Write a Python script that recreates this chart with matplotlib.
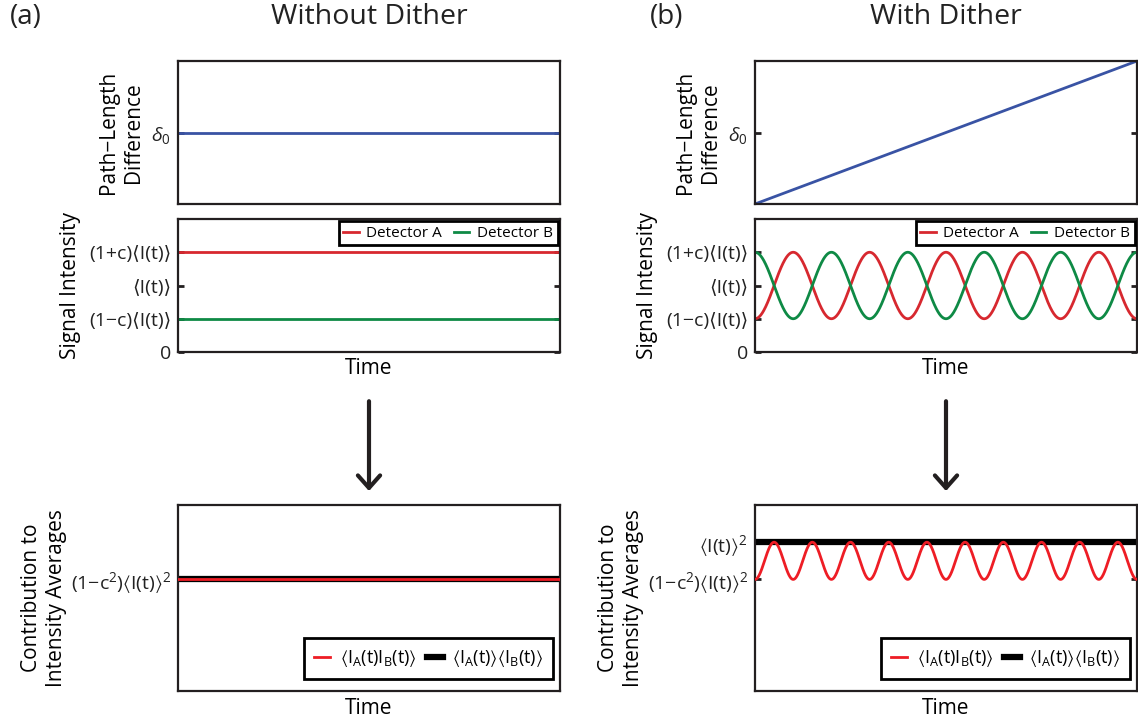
import numpy as np
import matplotlib.pyplot as plt

plt.rcParams["font.family"] = ["Open Sans", "DejaVu Sans"]
plt.rcParams["mathtext.fontset"] = "custom"
plt.rcParams["mathtext.rm"] = "Open Sans"
plt.rcParams["mathtext.it"] = "Open Sans:italic"
plt.rcParams["mathtext.bf"] = "Open Sans:bold"
plt.rcParams["mathtext.fallback"] = "stixsans"

# values
mean_I = 1.0          # <I(t)>
contrast = 0.5        # c
n_fringes = 5         # fringes swept while dithering
delta_range = [-1.0, 1.0]
n_pts = 1000

# colours
BLUE = "#3953a4"
RED_A = "#d7282f"
GREEN_B = "#0e8a45"
RED_AB = "#ee1d25"
INK = "#231f20"

t = np.linspace(0, 1, n_pts)
phase = 2 * np.pi * n_fringes * t

# without dither: everything stays fixed
delta_fixed = np.zeros_like(t)
IA_fixed = np.full_like(t, mean_I * (1 + contrast))
IB_fixed = np.full_like(t, mean_I * (1 - contrast))

# with dither: path length swept, fringes move past the detectors
delta_dither = np.linspace(delta_range[0], delta_range[1], n_pts)
IA_dither = mean_I * (1 - contrast * np.cos(phase))
IB_dither = mean_I * (1 + contrast * np.cos(phase))

sig_ticks = [0, (1 - contrast) * mean_I, mean_I, (1 + contrast) * mean_I]
sig_labels = ["0", "(1\u2212c)\u27e8I(t)\u27e9", "\u27e8I(t)\u27e9", "(1+c)\u27e8I(t)\u27e9"]
low_corr = (1 - contrast**2) * mean_I**2
low_label = r"(1$-$c$^2$)$\langle$I(t)$\rangle^2$"
mean_sq_label = r"$\langle$I(t)$\rangle^2$"
leg_prod = r"$\langle\mathrm{I_A(t)I_B(t)}\rangle$"
leg_means = r"$\langle\mathrm{I_A(t)}\rangle\langle\mathrm{I_B(t)}\rangle$"

W, H = 1138, 721
fig = plt.figure(figsize=(W / 100, H / 100), dpi=100)

cols = [178, 755]
tag_x = [10, 650]
width = 382


def add_ax(x0, top, bottom):
    return fig.add_axes([x0 / W, 1 - bottom / H, width / W, (bottom - top) / H])


def style(ax):
    for s in ax.spines.values():
        s.set_linewidth(1.6)
        s.set_color(INK)
    ax.tick_params(axis="y", direction="in", length=4, width=2, left=True, right=True,
                   labelsize=14, pad=5, colors=INK, labelcolor="#222222")
    ax.tick_params(axis="x", bottom=False, labelbottom=False)
    ax.set_xlim(0, 1)


def frame(leg):
    leg.get_frame().set_edgecolor("black")
    leg.get_frame().set_linewidth(2)


panels = [
    ("(a)", "Without Dither", delta_fixed, IA_fixed, IB_fixed),
    ("(b)", "With Dither", delta_dither, IA_dither, IB_dither),
]

for x0, tx, (tag, title, delta, IA, IB) in zip(cols, tag_x, panels):
    ax1 = add_ax(x0, 61, 204)
    ax2 = add_ax(x0, 219, 352)
    ax3 = add_ax(x0, 505, 691)

    # path-length difference
    ax1.plot(t, delta, color=BLUE, lw=2)
    ax1.set_ylim(-1, 1)
    ax1.set_yticks([0])
    ax1.set_yticklabels([r"$\delta_0$"], fontsize=18)
    ax1.set_ylabel("Path\u2212Length\nDifference", fontsize=15, linespacing=1.25)
    ax1.yaxis.set_label_coords(-0.09, 0.5)
    style(ax1)

    # detector signals
    ax2.plot(t, IA, color=RED_A, lw=2, label="Detector A")
    ax2.plot(t, IB, color=GREEN_B, lw=2, label="Detector B")
    ax2.set_ylim(0, 2 * mean_I)
    ax2.set_yticks(sig_ticks)
    ax2.set_yticklabels(sig_labels)
    ax2.set_ylabel("Signal Intensity", fontsize=15)
    ax2.yaxis.set_label_coords(-0.255, 0.5)
    ax2.set_xlabel("Time", fontsize=15, labelpad=4)
    style(ax2)
    leg = ax2.legend(loc="upper right", ncol=2, fontsize=11, handlelength=1.0,
                     handletextpad=0.5, columnspacing=0.8, borderaxespad=0.15,
                     fancybox=False, framealpha=1, borderpad=0.3)
    frame(leg)

    # contributions to the intensity averages
    ax3.plot(t, np.full_like(t, np.mean(IA) * np.mean(IB)), color="black", lw=4.5,
             label=leg_means, zorder=2)
    ax3.plot(t, IA * IB, color=RED_AB, lw=2, label=leg_prod, zorder=3)
    ax3.set_ylim(0, 1.25 * mean_I**2)
    if tag == "(a)":
        ax3.set_yticks([low_corr])
        ax3.set_yticklabels([low_label])
    else:
        ax3.set_yticks([low_corr, mean_I**2])
        ax3.set_yticklabels([low_label, mean_sq_label])
    ax3.set_ylabel("Contribution to\nIntensity Averages", fontsize=15, linespacing=1.25)
    ax3.yaxis.set_label_coords(-0.29, 0.5)
    ax3.set_xlabel("Time", fontsize=15, labelpad=5)
    style(ax3)
    h, l = ax3.get_legend_handles_labels()
    leg3 = ax3.legend(h[::-1], l[::-1], loc="lower right", bbox_to_anchor=(0.982, 0.065),
                      ncol=2, fontsize=13, handlelength=0.9, handletextpad=0.5,
                      columnspacing=0.6, borderaxespad=0, fancybox=False, framealpha=1,
                      borderpad=0.55)
    frame(leg3)

    # arrow between the signal and the averages
    ax3.annotate("", xy=(0.5, 1.075), xycoords="axes fraction",
                 xytext=(0.5, -0.37), textcoords=ax2.transAxes,
                 arrowprops=dict(arrowstyle="->,head_length=0.45,head_width=0.4",
                                 lw=3, color=INK, mutation_scale=20, shrinkA=0, shrinkB=0))

    fig.text(tx / W, 1 - 17 / H, tag, fontsize=20, va="center", ha="left", color="#222222")
    fig.text((x0 + width / 2) / W, 1 - 17 / H, title, fontsize=20.5, va="center",
             ha="center", color="#222222")

fig.savefig("out.png", dpi=100)
